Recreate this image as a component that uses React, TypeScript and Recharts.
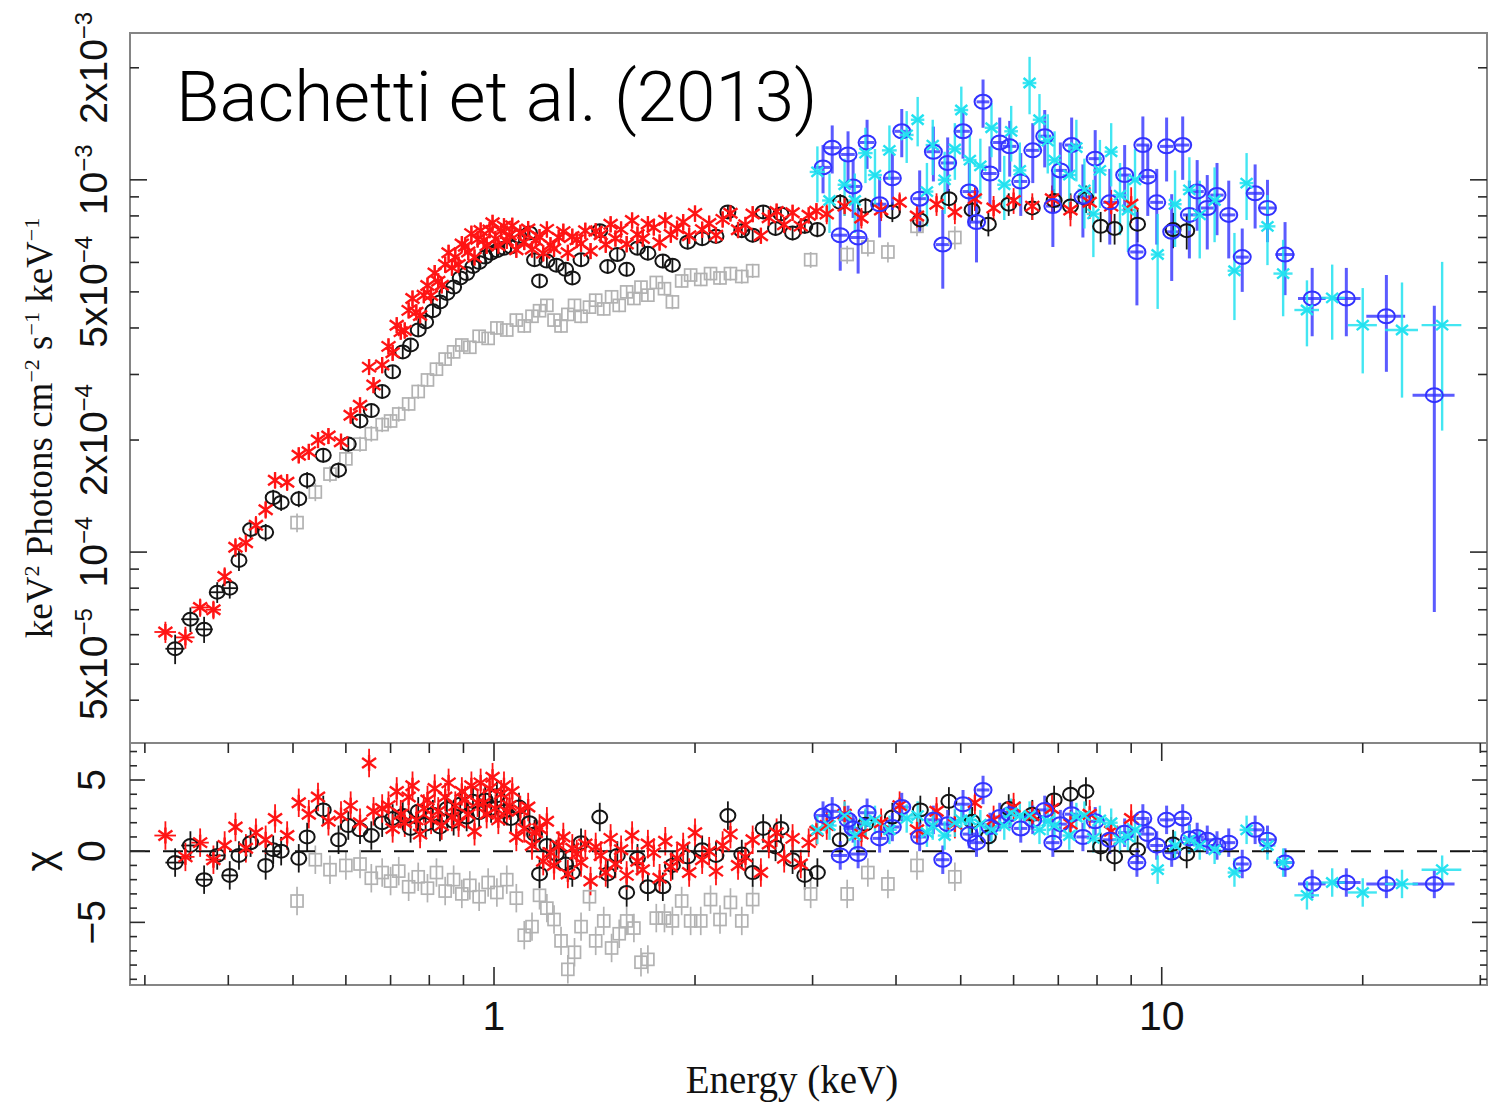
import React from "react";
import {
  ScatterChart,
  Scatter,
  XAxis,
  YAxis,
  ErrorBar,
  ReferenceArea,
  ReferenceLine,
} from "recharts";

// one spectral bin: energy (keV), E^2 F in 1e-4 units, its 1-sigma error, chi residual, optional half bin width (keV)
type Bin = [number, number, number, number, number?];

// black circles
const pnBins: Bin[] = [
  [0.333, 0.55, 0.05, -0.8, 0.011], [0.351, 0.66, 0.05, 0.4, 0.011], [0.368, 0.62, 0.05, -2.0, 0.011],
  [0.385, 0.78, 0.05, -0.3, 0.01], [0.402, 0.8, 0.05, -1.7, 0.01], [0.415, 0.95, 0.06, -0.3],
  [0.432, 1.15, 0.06, 0.6], [0.455, 1.13, 0.06, -1.0], [0.467, 1.4, 0.07, 0.1], [0.48, 1.36, 0.07, 0.0],
  [0.51, 1.39, 0.07, -0.5], [0.525, 1.56, 0.08, 1.0], [0.555, 1.82, 0.08, 2.9], [0.585, 1.66, 0.08, 0.8],
  [0.605, 1.95, 0.09, 1.8], [0.63, 2.25, 0.1, 1.5], [0.655, 2.4, 0.1, 1.1], [0.68, 2.7, 0.11, 2.0],
  [0.705, 3.05, 0.13, 2.3], [0.73, 3.45, 0.14, 2.5], [0.75, 3.6, 0.15, 1.6], [0.77, 3.95, 0.16, 2.8],
  [0.79, 4.15, 0.17, 1.9], [0.81, 4.45, 0.18, 2.6], [0.83, 4.7, 0.19, 1.7], [0.85, 4.95, 0.2, 3.0],
  [0.87, 5.15, 0.21, 2.1], [0.89, 5.45, 0.22, 3.3], [0.91, 5.6, 0.23, 2.4], [0.93, 5.85, 0.24, 3.5],
  [0.95, 6.0, 0.24, 2.7], [0.97, 6.2, 0.25, 3.6], [0.99, 6.35, 0.26, 3.0], [1.01, 6.45, 0.26, 3.9],
  [1.035, 6.55, 0.26, 2.8], [1.06, 6.6, 0.27, 2.3], [1.09, 7.05, 0.28, 3.1], [1.13, 7.2, 0.29, 2.0],
  [1.15, 6.1, 0.25, 1.2], [1.17, 5.35, 0.22, -1.6], [1.2, 6.05, 0.25, 0.4], [1.24, 5.9, 0.24, -0.2],
  [1.28, 5.75, 0.24, -0.9], [1.31, 5.45, 0.23, -1.5], [1.35, 6.1, 0.25, 0.6], [1.44, 7.3, 0.3, 2.4],
  [1.48, 5.85, 0.25, -1.6], [1.53, 6.3, 0.26, -0.3], [1.58, 5.75, 0.25, -2.9], [1.64, 6.55, 0.27, -0.5],
  [1.7, 6.35, 0.27, -2.5], [1.79, 6.05, 0.26, -2.5], [1.85, 5.9, 0.26, -1.0], [1.95, 6.8, 0.29, -0.4],
  [2.05, 6.95, 0.3, 0.1], [2.15, 7.05, 0.3, -0.3], [2.24, 8.2, 0.34, 2.5], [2.35, 7.3, 0.31, -0.2],
  [2.44, 7.1, 0.31, -1.5], [2.53, 8.2, 0.35, 1.6], [2.64, 7.4, 0.32, 0.3], [2.69, 8.1, 0.35, 1.6],
  [2.8, 7.2, 0.32, -0.6], [2.92, 7.5, 0.33, -1.7], [3.05, 7.35, 0.34, -1.5], [3.3, 8.7, 0.45, 0.8],
  [3.6, 8.5, 0.45, 1.9], [3.95, 8.2, 0.5, 2.4], [4.35, 7.8, 0.5, 2.9], [4.8, 8.9, 0.55, 3.5],
  [5.2, 8.3, 0.55, 2.1], [5.5, 7.6, 0.55, 1.0], [5.9, 8.6, 0.6, 3.0], [6.4, 8.4, 0.6, 2.6],
  [6.9, 8.8, 0.65, 3.6], [7.3, 8.5, 0.7, 4.0], [7.7, 8.9, 0.75, 4.2], [8.1, 7.5, 0.7, 0.3],
  [8.5, 7.4, 0.7, -0.4], [9.2, 7.6, 0.8, 0.1], [10.4, 7.35, 0.8, 0.5], [10.9, 7.3, 0.8, -0.2],
];

// red asterisks
const mosBins: Bin[] = [
  [0.322, 0.61, 0.04, 1.1, 0.012], [0.345, 0.59, 0.04, -0.4, 0.011], [0.363, 0.71, 0.04, 0.6, 0.011],
  [0.38, 0.7, 0.04, -0.6, 0.01], [0.395, 0.86, 0.05, 0.4], [0.41, 1.03, 0.06, 1.7], [0.425, 1.06, 0.06, 0.2],
  [0.44, 1.18, 0.07, 1.3], [0.455, 1.3, 0.07, 0.8], [0.47, 1.56, 0.08, 2.3], [0.49, 1.54, 0.08, 1.1],
  [0.51, 1.82, 0.09, 3.4], [0.528, 1.86, 0.09, 2.6], [0.545, 2.0, 0.1, 3.8], [0.565, 2.05, 0.1, 2.1],
  [0.59, 1.98, 0.1, 2.5], [0.61, 2.33, 0.12, 3.2], [0.63, 2.48, 0.12, 2.0], [0.65, 3.14, 0.15, 6.2],
  [0.66, 2.81, 0.14, 2.8], [0.68, 3.18, 0.16, 3.0],
  [0.695, 3.57, 0.18, 3.2], [0.705, 3.43, 0.17, 1.6], [0.715, 4.07, 0.2, 4.2], [0.725, 3.91, 0.19, 2.6],
  [0.735, 3.94, 0.2, 2.0], [0.745, 4.46, 0.22, 3.8], [0.755, 4.8, 0.24, 4.6], [0.765, 4.41, 0.22, 2.2],
  [0.775, 4.32, 0.22, 1.2], [0.785, 4.9, 0.24, 3.0], [0.795, 5.2, 0.26, 3.6], [0.805, 4.89, 0.24, 2.2],
  [0.815, 5.62, 0.28, 4.4], [0.825, 5.34, 0.27, 2.8], [0.835, 5.21, 0.26, 1.8], [0.845, 5.92, 0.3, 3.8],
  [0.855, 6.37, 0.32, 4.8], [0.865, 5.81, 0.29, 2.4], [0.875, 6.2, 0.31, 3.2], [0.885, 5.92, 0.3, 2.0],
  [0.895, 6.72, 0.34, 4.2], [0.905, 6.63, 0.33, 3.6], [0.915, 6.4, 0.32, 2.6], [0.925, 7.17, 0.36, 4.6],
  [0.935, 6.19, 0.31, 1.4], [0.945, 6.92, 0.35, 3.4], [0.955, 7.31, 0.37, 4.8], [0.965, 6.88, 0.34, 3.4],
  [0.975, 6.65, 0.33, 2.6], [0.985, 7.33, 0.37, 4.4], [0.995, 7.67, 0.38, 5.2], [1.005, 6.94, 0.35, 3.0],
  [1.015, 6.65, 0.33, 2.2], [1.025, 7.29, 0.36, 4.0], [1.035, 7.51, 0.38, 4.6], [1.045, 6.86, 0.34, 2.8],
  [1.055, 7.1, 0.36, 3.2], [1.065, 7.53, 0.38, 4.2], [1.08, 6.49, 0.32, 1.0], [1.095, 7.21, 0.36, 2.9],
  [1.11, 6.81, 0.34, 1.6], [1.125, 7.38, 0.37, 3.1], [1.14, 6.51, 0.33, 0.4], [1.155, 6.87, 0.34, 1.3],
  [1.17, 7.02, 0.35, 1.6], [1.185, 6.35, 0.32, -0.7], [1.2, 7.36, 0.37, 2.1], [1.215, 6.68, 0.33, -0.1],
  [1.23, 6.53, 0.33, -1.0], [1.25, 7.0, 0.35, 0.4], [1.27, 7.26, 0.36, 1.0], [1.29, 6.37, 0.32, -1.6],
  [1.31, 7.04, 0.35, 0.2], [1.33, 6.9, 0.35, -0.2], [1.35, 6.74, 0.34, -0.8], [1.37, 7.3, 0.37, 0.5],
  [1.395, 6.44, 0.32, -2.1], [1.42, 7.28, 0.36, 0.3], [1.445, 7.12, 0.36, -0.3], [1.47, 6.7, 0.34, -1.5],
  [1.495, 7.6, 0.38, 0.9], [1.52, 6.96, 0.35, -0.9], [1.55, 7.36, 0.37, 0.1], [1.58, 6.72, 0.34, -1.7],
  [1.61, 7.78, 0.39, 1.1], [1.64, 7.13, 0.36, -0.7], [1.67, 6.96, 0.35, -1.3], [1.7, 7.61, 0.38, 0.5],
  [1.735, 7.45, 0.37, -0.1], [1.77, 6.79, 0.34, -1.9], [1.805, 7.79, 0.39, 0.7], [1.84, 7.13, 0.36, -1.1],
  [1.88, 7.4, 0.37, -0.5], [1.92, 7.7, 0.39, 0.3], [1.96, 7.08, 0.35, -1.5], [2.0, 8.12, 0.41, 1.3],
  [2.05, 7.35, 0.37, -0.6], [2.1, 7.63, 0.38, 0.0], [2.15, 7.1, 0.36, -1.4], [2.2, 7.83, 0.39, 0.4],
  [2.26, 8.13, 0.41, 1.2], [2.32, 7.34, 0.37, -1.0], [2.38, 7.57, 0.38, -0.4], [2.44, 8.09, 0.4, 0.8],
  [2.51, 7.08, 0.35, -1.5], [2.58, 7.91, 0.4, 0.5], [2.65, 8.22, 0.41, 1.3], [2.72, 7.57, 0.38, -0.5],
  [2.8, 8.16, 0.41, 0.9], [2.88, 7.51, 0.38, -0.9], [2.96, 8.03, 0.4, 0.6], [3.04, 8.24, 0.41, 1.4],
  [3.15, 8.1, 0.5, 1.8], [3.35, 8.5, 0.5, 2.6], [3.55, 7.9, 0.5, 1.2], [3.8, 8.3, 0.55, 2.0],
  [4.05, 8.7, 0.55, 3.2], [4.3, 8.0, 0.55, 1.5], [4.6, 8.6, 0.6, 2.8], [4.9, 8.2, 0.6, 1.9],
  [5.25, 8.9, 0.65, 3.4], [5.6, 8.4, 0.65, 2.2], [6.0, 8.8, 0.7, 3.1], [6.4, 8.5, 0.7, 2.5],
  [6.85, 8.9, 0.75, 3.0], [7.3, 8.3, 0.8, 1.9], [7.8, 8.7, 0.85, 2.6], [8.4, 8.5, 0.9, 1.4],
  [9.0, 8.6, 0.95, 2.3],
];

// grey squares
const pnEarlyBins: Bin[] = [
  [0.507, 1.2, 0.07, -3.5], [0.54, 1.45, 0.08, -0.6], [0.568, 1.62, 0.08, -1.3], [0.6, 1.78, 0.09, -1.0],
  [0.63, 1.95, 0.09, -0.9], [0.655, 2.08, 0.1, -1.9], [0.68, 2.2, 0.1, -1.5], [0.7, 2.25, 0.1, -2.1],
  [0.72, 2.35, 0.11, -1.4], [0.745, 2.5, 0.11, -2.5], [0.77, 2.7, 0.12, -1.8], [0.795, 2.9, 0.12, -2.6],
  [0.82, 3.1, 0.13, -1.5], [0.845, 3.3, 0.13, -2.8], [0.87, 3.45, 0.14, -2.0], [0.895, 3.6, 0.14, -3.0],
  [0.92, 3.55, 0.14, -2.4], [0.95, 3.8, 0.15, -3.2], [0.98, 3.75, 0.15, -2.2], [1.01, 4.0, 0.16, -2.9],
  [1.045, 3.95, 0.16, -2.0], [1.08, 4.2, 0.17, -3.3], [1.11, 4.05, 0.17, -5.9], [1.14, 4.3, 0.17, -5.3],
  [1.17, 4.45, 0.17, -3.1], [1.2, 4.6, 0.18, -4.0], [1.23, 4.2, 0.17, -4.8], [1.26, 4.05, 0.17, -6.3],
  [1.29, 4.35, 0.18, -8.3], [1.32, 4.6, 0.18, -7.1], [1.35, 4.3, 0.18, -5.3], [1.39, 4.55, 0.18, -3.2],
  [1.42, 4.75, 0.19, -6.3], [1.46, 4.5, 0.18, -4.9], [1.5, 4.85, 0.19, -6.8], [1.54, 4.6, 0.19, -5.8],
  [1.58, 5.0, 0.2, -4.9], [1.62, 4.8, 0.19, -5.4], [1.66, 5.15, 0.2, -7.8], [1.7, 4.9, 0.2, -7.6],
  [1.75, 5.3, 0.21, -4.7], [1.8, 5.1, 0.21, -4.7], [1.85, 4.7, 0.21, -4.9], [1.91, 5.35, 0.21, -3.5],
  [1.97, 5.55, 0.22, -4.9], [2.04, 5.4, 0.22, -4.9], [2.11, 5.6, 0.23, -3.4], [2.18, 5.45, 0.23, -4.8],
  [2.26, 5.6, 0.24, -3.6], [2.35, 5.5, 0.24, -4.9], [2.44, 5.7, 0.25, -3.4], [2.98, 6.1, 0.3, -3.0],
  [3.38, 6.3, 0.35, -3.0], [3.63, 6.6, 0.38, -1.5], [3.89, 6.4, 0.4, -2.3], [4.3, 7.5, 0.45, -1.0],
  [4.9, 7.0, 0.5, -1.8],
];

// blue circles
const fpmaBins: Bin[] = [
  [3.11, 10.8, 1.6, 2.5, 0.08], [3.21, 12.2, 1.8, 2.8, 0.08], [3.3, 7.1, 1.4, -0.3, 0.08],
  [3.39, 11.7, 1.8, 2.2, 0.08], [3.45, 9.6, 1.7, 1.6, 0.09], [3.51, 7.0, 1.4, -0.2, 0.09],
  [3.62, 12.6, 1.9, 2.7, 0.09], [3.78, 8.6, 1.6, 0.9, 0.09], [3.95, 10.1, 1.8, 1.7, 0.1],
  [4.08, 13.5, 2.0, 3.1, 0.1], [4.34, 8.9, 1.7, 1.0, 0.1], [4.55, 11.9, 2.0, 2.2, 0.11],
  [4.7, 6.7, 1.6, -0.6, 0.11], [4.78, 11.1, 1.9, 1.9, 0.11], [5.04, 13.5, 2.1, 3.3, 0.12],
  [5.15, 9.3, 1.8, 1.2, 0.12], [5.28, 7.7, 1.7, 0.6, 0.12], [5.4, 16.2, 2.4, 4.3, 0.12],
  [5.53, 10.4, 1.9, 1.7, 0.13], [5.72, 12.6, 2.1, 2.4, 0.13], [5.92, 12.3, 2.1, 2.6, 0.14],
  [6.15, 9.9, 1.9, 1.6, 0.14], [6.41, 12.0, 2.2, 2.2, 0.15], [6.68, 13.1, 2.3, 2.9, 0.15],
  [6.87, 8.5, 1.9, 0.6, 0.16], [7.05, 10.6, 2.0, 1.9, 0.16], [7.33, 12.4, 2.3, 2.6, 0.17],
  [7.62, 9.0, 2.0, 1.0, 0.17], [7.95, 11.4, 2.2, 2.1, 0.18], [8.36, 8.7, 2.0, 0.8, 0.19],
  [8.8, 10.3, 2.1, 1.3, 0.2], [9.18, 6.4, 1.8, -0.8, 0.21], [9.37, 12.4, 2.4, 2.3, 0.21],
  [9.53, 10.2, 2.2, 1.2, 0.22], [9.83, 8.7, 2.0, 0.4, 0.22], [10.17, 12.3, 2.4, 2.2, 0.23],
  [10.35, 7.25, 1.9, -0.1, 0.24], [10.75, 12.4, 2.4, 2.3, 0.25], [11.0, 8.05, 1.9, 0.9, 0.25],
  [11.3, 9.3, 2.0, 1.0, 0.26], [11.7, 8.4, 1.9, 0.8, 0.27], [12.1, 9.1, 2.0, 0.4, 0.28],
  [12.6, 8.05, 1.9, 0.6, 0.29], [13.2, 6.2, 1.2, -0.9, 0.3], [13.8, 9.2, 1.8, 1.5, 0.35],
  [14.4, 8.4, 1.6, 0.8, 0.4], [15.3, 6.3, 1.4, -0.8, 0.5], [16.8, 4.8, 1.0, -2.3, 0.8],
  [18.9, 4.8, 1.0, -2.2, 0.95], [21.7, 4.3, 1.25, -2.3, 1.45], [25.6, 2.64, 1.95, -2.3, 1.85],
];

// cyan crosses
const fpmbBins: Bin[] = [
  [3.05, 10.5, 1.8, 1.5, 0.08], [3.18, 8.8, 1.6, 1.8, 0.08], [3.35, 9.7, 1.7, 2.5, 0.08],
  [3.47, 8.8, 1.6, 1.1, 0.09], [3.6, 11.8, 2.0, 2.0, 0.09], [3.72, 10.3, 1.8, 2.2, 0.09],
  [3.91, 12.0, 2.0, 1.5, 0.1], [4.15, 13.2, 2.1, 2.3, 0.1], [4.31, 14.5, 2.2, 2.5, 0.1],
  [4.45, 9.3, 1.8, 1.3, 0.1], [4.54, 12.4, 2.1, 1.8, 0.11], [4.73, 10.0, 1.9, 1.1, 0.11],
  [4.9, 12.1, 2.1, 2.0, 0.11], [5.01, 15.4, 2.4, 2.2, 0.12], [5.16, 11.3, 2.0, 2.2, 0.12],
  [5.35, 10.9, 2.0, 1.9, 0.12], [5.56, 13.8, 2.3, 1.5, 0.13], [5.81, 9.7, 1.9, 1.8, 0.14],
  [5.95, 13.5, 2.3, 2.7, 0.14], [6.13, 10.6, 2.0, 2.5, 0.14], [6.34, 18.2, 3.2, 2.5, 0.15],
  [6.56, 14.5, 2.5, 1.5, 0.15], [6.75, 12.7, 2.3, 2.1, 0.16], [6.91, 11.3, 2.2, 1.8, 0.16],
  [7.27, 10.3, 2.1, 1.1, 0.17], [7.45, 12.2, 2.3, 2.4, 0.17], [7.66, 9.4, 2.0, 2.5, 0.18],
  [7.9, 8.1, 1.9, 0.9, 0.18], [8.08, 10.6, 2.2, 2.2, 0.19], [8.4, 11.9, 2.3, 2.0, 0.19],
  [8.66, 9.1, 2.0, 0.8, 0.2], [8.9, 8.3, 1.9, 1.0, 0.2], [9.12, 10.0, 2.1, 1.5, 0.21],
  [9.86, 6.3, 1.8, -1.3, 0.23], [10.47, 8.6, 2.0, 0.4, 0.24], [11.0, 9.4, 2.1, 0.8, 0.25],
  [11.4, 8.05, 1.9, 0.4, 0.26], [12.0, 8.8, 2.0, 0.1, 0.28], [12.85, 5.7, 1.5, -1.5, 0.3],
  [13.4, 9.8, 2.0, 1.5, 0.32], [14.4, 7.5, 1.6, 0.4, 0.4], [15.2, 5.6, 1.3, -0.8, 0.5],
  [16.5, 4.47, 0.9, -3.1, 0.7], [18.0, 4.82, 1.1, -2.2, 0.8], [20.0, 4.07, 1.05, -2.9, 1.0],
  [22.9, 3.95, 1.35, -2.3, 1.3], [26.3, 4.07, 1.95, -1.3, 1.8],
];

const energyTicks = [0.3, 0.4, 0.5, 0.6, 0.7, 0.8, 0.9, 1, 2, 3, 4, 5, 6, 7, 8, 9, 10, 20, 30];
const energyLabels = new Map<number, string>([[1, "1"], [10, "10"]]);

const fluxTicks = [
  4e-5, 5e-5, 6e-5, 7e-5, 8e-5, 9e-5, 1e-4, 2e-4, 3e-4, 4e-4, 5e-4, 6e-4, 7e-4, 8e-4, 9e-4, 1e-3, 2e-3,
];
const fluxLabels = new Map<number, [string, string]>([
  [5e-5, ["5x10", "\u22125"]],
  [1e-4, ["10", "\u22124"]],
  [2e-4, ["2x10", "\u22124"]],
  [5e-4, ["5x10", "\u22124"]],
  [1e-3, ["10", "\u22123"]],
  [2e-3, ["2x10", "\u22123"]],
]);
const fluxMajor = [1e-4, 1e-3];

const chiTicks = [-9, -8, -7, -6, -5, -4, -3, -2, -1, 0, 1, 2, 3, 4, 5, 6, 7];
const chiLabels = new Map<number, string>([[5, "5"], [0, "0"], [-5, "\u22125"]]);

const E_DOMAIN: [number, number] = [0.285, 30.7];
const FLUX_DOMAIN: [number, number] = [3.07e-5, 2.48e-3];
const CHI_DOMAIN: [number, number] = [-9.4, 7.6];

// layout, px
const WIDTH = 1504;
const HEIGHT = 1104;
const PLOT_L = 130;
const PLOT_R = 1487;
const SPEC_T = 33;
const SPEC_B = 743;
const RES_PLOT_H = 242;
const RES_CHART_H = HEIGHT - SPEC_B;

const SANS = "'Liberation Sans', Arial, Helvetica, sans-serif";
const SERIF = "'Liberation Serif', 'Times New Roman', serif";
const TICK_COLOR = "#2a2a2a";
const FRAME_COLOR = "#858585";

type Pt = { e: number; f: number; fErr: number; chi: number; chiErr: number; eErr: number };

const toPoints = (bins: Bin[]): Pt[] =>
  bins.map(([e, f, df, chi, de]) => ({
    e,
    f: f * 1e-4,
    fErr: df * 1e-4,
    chi,
    chiErr: 1,
    eErr: de ?? 0,
  }));

// markers
const ring = (color: string, rx: number, ry: number, sw: number) => (p: any) => (
  <ellipse cx={p.cx} cy={p.cy} rx={rx} ry={ry} fill="none" stroke={color} strokeWidth={sw} />
);
const box = (color: string) => (p: any) => (
  <rect x={p.cx - 6} y={p.cy - 6} width={12} height={12} fill="none" stroke={color} strokeWidth={1.7} />
);
const star = (color: string) => (p: any) => (
  <g stroke={color} strokeWidth={2.4}>
    <line x1={p.cx - 7} y1={p.cy - 5} x2={p.cx + 7} y2={p.cy + 5} />
    <line x1={p.cx - 7} y1={p.cy + 5} x2={p.cx + 7} y2={p.cy - 5} />
    <line x1={p.cx} y1={p.cy - 8} x2={p.cx} y2={p.cy + 8} />
  </g>
);
const cross = (color: string) => (p: any) => (
  <g stroke={color} strokeWidth={2.4}>
    <line x1={p.cx - 6} y1={p.cy - 5} x2={p.cx + 6} y2={p.cy + 5} />
    <line x1={p.cx - 6} y1={p.cy + 5} x2={p.cx + 6} y2={p.cy - 5} />
  </g>
);

type Series = {
  name: string;
  points: Pt[];
  color: string;
  barWidth: number;
  barOpacity: number;
  shape: (p: any) => React.ReactElement;
};

const series: Series[] = [
  { name: "pnEarly", points: toPoints(pnEarlyBins), color: "#b2b2b2", barWidth: 1.7, barOpacity: 1, shape: box("#b2b2b2") },
  { name: "pn", points: toPoints(pnBins), color: "#151515", barWidth: 1.8, barOpacity: 1, shape: ring("#151515", 7.5, 6.5, 2) },
  { name: "mos", points: toPoints(mosBins), color: "#ff1414", barWidth: 1.8, barOpacity: 1, shape: star("#ff1414") },
  { name: "fpma", points: toPoints(fpmaBins), color: "#3232ff", barWidth: 3, barOpacity: 0.8, shape: ring("#3232ff", 8.5, 7, 2) },
  { name: "fpmb", points: toPoints(fpmbBins), color: "#22e2f0", barWidth: 2.4, barOpacity: 0.85, shape: cross("#22e2f0") },
];

// inward tick marks on the top and bottom edges, with optional labels underneath
const energyTick = (top: number, bottom: number, labelY?: number) => (props: any) => {
  const { x, payload } = props;
  const v = payload.value as number;
  const len = energyLabels.has(v) ? 18 : 10;
  const label = labelY !== undefined ? energyLabels.get(v) : undefined;
  return (
    <g>
      <line x1={x} x2={x} y1={top} y2={top + len} stroke={TICK_COLOR} strokeWidth={1.6} />
      <line x1={x} x2={x} y1={bottom - len} y2={bottom} stroke={TICK_COLOR} strokeWidth={1.6} />
      {label && (
        <text x={x} y={labelY} textAnchor="middle" fontFamily={SANS} fontSize={41} fill="#111">
          {label}
        </text>
      )}
    </g>
  );
};

const FluxTick = (props: any) => {
  const { y, payload } = props;
  const v = payload.value as number;
  const len = fluxMajor.includes(v) ? 17 : 9;
  const label = fluxLabels.get(v);
  return (
    <g>
      <line x1={PLOT_L} x2={PLOT_L + len} y1={y} y2={y} stroke={TICK_COLOR} strokeWidth={1.6} />
      <line x1={PLOT_R - len} x2={PLOT_R} y1={y} y2={y} stroke={TICK_COLOR} strokeWidth={1.6} />
      {label && (
        <text
          transform={`translate(107, ${y}) rotate(-90)`}
          textAnchor="middle"
          fontFamily={SANS}
          fontSize={39}
          fill="#111"
        >
          {label[0]}
          <tspan dy={-15} fontSize={24}>
            {label[1]}
          </tspan>
        </text>
      )}
    </g>
  );
};

const ChiTick = (props: any) => {
  const { y, payload } = props;
  const v = payload.value as number;
  const label = chiLabels.get(v);
  const len = label ? 15 : 7;
  return (
    <g>
      <line x1={PLOT_L} x2={PLOT_L + len} y1={y} y2={y} stroke={TICK_COLOR} strokeWidth={1.6} />
      <line x1={PLOT_R - len} x2={PLOT_R} y1={y} y2={y} stroke={TICK_COLOR} strokeWidth={1.6} />
      {label && (
        <text
          transform={`translate(105, ${y}) rotate(-90)`}
          textAnchor="middle"
          fontFamily={SANS}
          fontSize={39}
          fill="#111"
        >
          {label}
        </text>
      )}
    </g>
  );
};

function SpectrumPanel() {
  return (
    <ScatterChart
      width={WIDTH}
      height={SPEC_B + 1}
      margin={{ top: SPEC_T, right: WIDTH - PLOT_R, bottom: 1, left: 0 }}
    >
      <XAxis
        dataKey="e"
        type="number"
        scale="log"
        domain={E_DOMAIN}
        allowDataOverflow
        ticks={energyTicks}
        interval={0}
        height={0}
        axisLine={false}
        tickLine={false}
        tick={energyTick(SPEC_T, SPEC_B)}
      />
      <YAxis
        dataKey="f"
        type="number"
        scale="log"
        domain={FLUX_DOMAIN}
        allowDataOverflow
        ticks={fluxTicks}
        interval={0}
        width={PLOT_L}
        axisLine={false}
        tickLine={false}
        tick={FluxTick}
      />
      <ReferenceArea
        x1={E_DOMAIN[0]}
        x2={E_DOMAIN[1]}
        y1={FLUX_DOMAIN[0]}
        y2={FLUX_DOMAIN[1]}
        ifOverflow="visible"
        fill="none"
        stroke={FRAME_COLOR}
        strokeWidth={2}
      />
      {series.map((s) => (
        <Scatter key={s.name} data={s.points} shape={s.shape} isAnimationActive={false}>
          <ErrorBar dataKey="fErr" direction="y" width={0} stroke={s.color} strokeWidth={s.barWidth} strokeOpacity={s.barOpacity} />
          <ErrorBar dataKey="eErr" direction="x" width={0} stroke={s.color} strokeWidth={s.barWidth} strokeOpacity={s.barOpacity} />
        </Scatter>
      ))}
    </ScatterChart>
  );
}

function ResidualPanel() {
  return (
    <ScatterChart
      width={WIDTH}
      height={RES_CHART_H}
      margin={{ top: 0, right: WIDTH - PLOT_R, bottom: 0, left: 0 }}
    >
      <XAxis
        dataKey="e"
        type="number"
        scale="log"
        domain={E_DOMAIN}
        allowDataOverflow
        ticks={energyTicks}
        interval={0}
        height={RES_CHART_H - RES_PLOT_H}
        axisLine={false}
        tickLine={false}
        tick={energyTick(0, RES_PLOT_H, RES_PLOT_H + 45)}
      />
      <YAxis
        dataKey="chi"
        type="number"
        domain={CHI_DOMAIN}
        allowDataOverflow
        ticks={chiTicks}
        interval={0}
        width={PLOT_L}
        axisLine={false}
        tickLine={false}
        tick={ChiTick}
      />
      <ReferenceArea
        x1={E_DOMAIN[0]}
        x2={E_DOMAIN[1]}
        y1={CHI_DOMAIN[0]}
        y2={CHI_DOMAIN[1]}
        ifOverflow="visible"
        fill="none"
        stroke={FRAME_COLOR}
        strokeWidth={2}
      />
      {series.map((s) => (
        <Scatter key={s.name} data={s.points} shape={s.shape} isAnimationActive={false}>
          <ErrorBar dataKey="chiErr" direction="y" width={0} stroke={s.color} strokeWidth={s.barWidth} strokeOpacity={s.barOpacity} />
          <ErrorBar dataKey="eErr" direction="x" width={0} stroke={s.color} strokeWidth={s.barWidth} strokeOpacity={s.barOpacity} />
        </Scatter>
      ))}
      <ReferenceLine y={0} stroke="#111" strokeWidth={2} strokeDasharray="20 13" />
    </ScatterChart>
  );
}

export default function App() {
  return (
    <div style={{ position: "absolute", left: 0, top: 0, width: WIDTH, height: HEIGHT, background: "#fff" }}>
      <div style={{ position: "absolute", left: 0, top: 0 }}>
        <SpectrumPanel />
      </div>
      <div style={{ position: "absolute", left: 0, top: SPEC_B }}>
        <ResidualPanel />
      </div>
      <svg
        width={WIDTH}
        height={HEIGHT}
        style={{ position: "absolute", left: 0, top: 0, pointerEvents: "none" }}
      >
        <text
          x={176}
          y={121}
          fontFamily="'Helvetica Neue', Roboto, 'Liberation Sans', sans-serif"
          fontWeight={300}
          fontSize={71}
          fill="#000"
        >
          Bachetti et al. (2013)
        </text>
        <text
          transform="translate(52, 428) rotate(-90)"
          textAnchor="middle"
          fontFamily={SERIF}
          fontSize={37}
          fill="#111"
        >
          keV<tspan dy={-13} fontSize={22}>2</tspan>
          <tspan dy={13}> Photons cm</tspan>
          <tspan dy={-13} fontSize={22}>{"\u22122"}</tspan>
          <tspan dy={13}> s</tspan>
          <tspan dy={-13} fontSize={22}>{"\u22121"}</tspan>
          <tspan dy={13}> keV</tspan>
          <tspan dy={-13} fontSize={22}>{"\u22121"}</tspan>
        </text>
        <text
          transform="translate(54, 861) rotate(-90)"
          textAnchor="middle"
          fontFamily={SANS}
          fontSize={40}
          fill="#111"
        >
          {"\u03c7"}
        </text>
        <text x={792} y={1093} textAnchor="middle" fontFamily={SERIF} fontSize={39} fill="#111">
          Energy (keV)
        </text>
      </svg>
    </div>
  );
}
